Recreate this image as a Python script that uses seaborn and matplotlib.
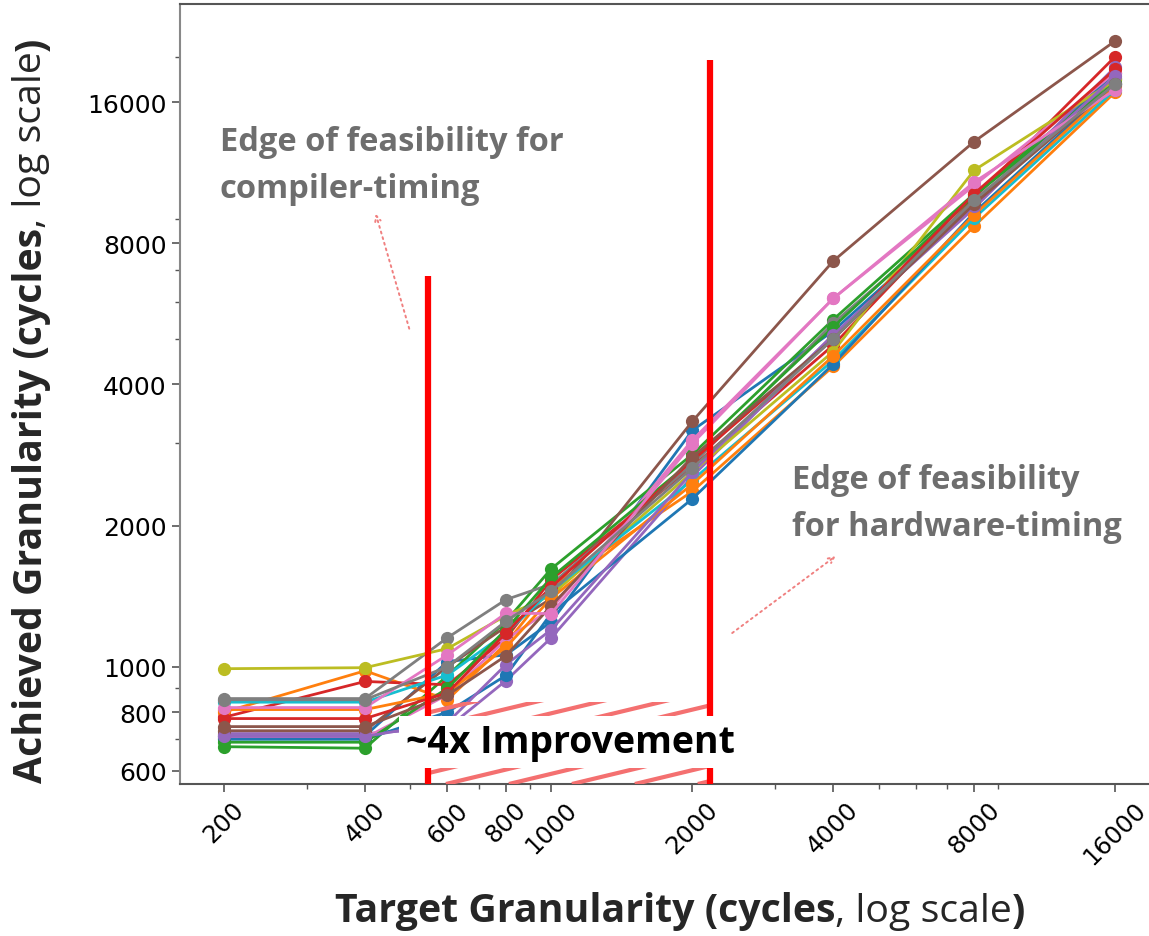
import numpy as np
import pandas as pd
import matplotlib
matplotlib.use("Agg")
import matplotlib.pyplot as plt
from matplotlib.patches import Rectangle
from matplotlib.ticker import FixedLocator, LogLocator, NullFormatter, FixedFormatter
import seaborn as sns

# Target granularity (cycles) on the x axis
target = [200, 400, 600, 800, 1000, 2000, 4000, 8000, 16000]

# Achieved granularity per benchmark run
run_01 = [712, 712, 1025, 1060, 1247, 3190, 5200, 9700, 18500]
run_02 = [800, 980, 850, 1120, 1481, 2365, 4370, 8700, 16800]
run_03 = [675, 670, 957, 1250, 1618, 2835, 5500, 10200, 17900]
run_04 = [780, 930, 915, 1150, 1534, 2670, 4850, 10000, 20000]
run_05 = [720, 720, 740, 934, 1153, 2545, 5100, 9500, 19000]
run_06 = [730, 730, 1000, 1217, 1397, 3335, 7330, 13180, 21600]
run_07 = [705, 705, 871, 1142, 1330, 3040, 6100, 10630, 18500]
run_08 = [855, 855, 1153, 1390, 1500, 2700, 5400, 9800, 18000]
run_09 = [990, 995, 1093, 1285, 1420, 2600, 4700, 11450, 17800]
run_10 = [840, 840, 960, 1180, 1452, 2500, 4500, 9050, 17000]
run_11 = [700, 700, 800, 958, 1300, 2280, 4420, 9300, 17500]
run_12 = [810, 810, 880, 1100, 1400, 2450, 4600, 9200, 17300]
run_13 = [690, 690, 900, 1200, 1550, 2750, 5300, 10100, 17600]
run_14 = [775, 775, 880, 1180, 1480, 2750, 5000, 10200, 18800]
run_15 = [710, 710, 760, 1010, 1200, 2600, 5100, 9600, 18200]
run_16 = [745, 745, 870, 1055, 1350, 2800, 5000, 9700, 17500]
run_17 = [818, 818, 1060, 1300, 1298, 2990, 6100, 10800, 17000]
run_18 = [850, 850, 1000, 1250, 1450, 2650, 5000, 9900, 17500]

runs = [run_01, run_02, run_03, run_04, run_05, run_06, run_07, run_08, run_09,
        run_10, run_11, run_12, run_13, run_14, run_15, run_16, run_17, run_18]

x_ticks = [200, 400, 600, 800, 1000, 2000, 4000, 8000, 16000]
y_ticks = [600, 800, 1000, 2000, 4000, 8000, 16000]

# Feasibility edges (target cycles) and the heights of their markers
compiler_edge = 545
hardware_edge = 2180
compiler_edge_top = 6800
hardware_edge_top = 19700

rows = []
for i, vals in enumerate(runs):
    for t, v in zip(target, vals):
        rows.append({"run": f"r{i:02d}", "target": t, "achieved": v})
df = pd.DataFrame(rows)

sns.set_style("ticks")
plt.rcParams["font.family"] = ["DejaVu Sans"]
LABEL_FONT = "Open Sans"

fig = plt.figure(figsize=(11.49, 9.37), dpi=100)
ax = fig.add_axes([180 / 1149, 1 - 785 / 937, 1 - 180 / 1149, (785 - 5) / 937])

palette = sns.color_palette("tab10", 10)
colors = [palette[i % 10] for i in range(len(runs))]
sns.lineplot(data=df, x="target", y="achieved", hue="run", palette=colors,
             marker="o", markersize=9.5, markeredgewidth=0, linewidth=2.0,
             legend=False, sort=False, ax=ax)

ax.set_xscale("log")
ax.set_yscale("log")
ax.set_xlim(161, 18900)
ax.set_ylim(562, 25900)

ax.xaxis.set_major_locator(FixedLocator(x_ticks))
ax.xaxis.set_major_formatter(FixedFormatter([str(v) for v in x_ticks]))
ax.xaxis.set_minor_locator(LogLocator(base=10, subs=np.arange(2, 10)))
ax.xaxis.set_minor_formatter(NullFormatter())
ax.yaxis.set_major_locator(FixedLocator(y_ticks))
ax.yaxis.set_major_formatter(FixedFormatter([str(v) for v in y_ticks]))
ax.yaxis.set_minor_locator(LogLocator(base=10, subs=np.arange(2, 10)))
ax.yaxis.set_minor_formatter(NullFormatter())

ax.tick_params(axis="both", which="major", labelsize=18, length=6, width=1.2,
               color="#555555", labelcolor="black")
ax.tick_params(axis="x", which="major", labelsize=17.5)
ax.tick_params(axis="both", which="minor", length=3.5, width=1.0, color="#555555")
plt.setp(ax.get_xticklabels(), rotation=45, ha="center", rotation_mode="default")
ax.set_xlabel("")
ax.set_ylabel("")
for side in ["top", "bottom", "left"]:
    ax.spines[side].set_color("#555555")
    ax.spines[side].set_linewidth(1.5)
ax.spines["left"].set_color("#888888")
ax.spines["right"].set_visible(False)

# Red feasibility edges
ybot = ax.get_ylim()[0]
ax.vlines([compiler_edge], ybot, compiler_edge_top, color="#ff0000", lw=4.5, zorder=5)
ax.vlines([hardware_edge], ybot, hardware_edge_top, color="#ff0000", lw=4.5, zorder=5)

# Hatched band between the two edges
band_top = 842
band = Rectangle((compiler_edge, ybot), hardware_edge - compiler_edge, band_top - ybot,
                 facecolor="none", edgecolor="none", transform=ax.transData)
ax.add_patch(band)
slope = 0.24
step = 2 ** (63 / 141)
xs = compiler_edge / 2 ** 3
while xs < hardware_edge * 2:
    ln, = ax.plot([xs, xs * 2 ** 3], [ybot, ybot * 2 ** (3 * slope)],
                  color="#f47070", lw=3.0, zorder=4, solid_capstyle="butt")
    ln.set_clip_path(band)
    xs *= step

ax.text(1100, 692, "~4x Improvement", fontsize=27, fontweight="bold",
        family=LABEL_FONT, color="black", ha="center", va="center", zorder=6,
        bbox=dict(facecolor="white", edgecolor="none", pad=5))

gray_txt = "#6e6e6e"
ax.text(196, 14300, "Edge of feasibility for\ncompiler-timing", fontsize=23.5,
        fontweight="bold", family=LABEL_FONT, color=gray_txt, ha="left", va="top",
        linespacing=1.55)
ax.text(3266, 2720, "Edge of feasibility\nfor hardware-timing", fontsize=23.5,
        fontweight="bold", family=LABEL_FONT, color=gray_txt, ha="left", va="top",
        linespacing=1.55)

arrow_kw = dict(arrowstyle="->", linestyle=(0, (1, 2)), color="#f08080", lw=1.4)
ax.annotate("", xy=(420, 9365), xytext=(499, 5190), arrowprops=arrow_kw)
ax.annotate("", xy=(4092, 1735), xytext=(2407, 1170), arrowprops=arrow_kw)


def mixed_label(pieces, x, y, vertical, size):
    """Draw a label made of runs with different weights, centred on (x, y)."""
    rot = 90 if vertical else 0
    first = fig.text(x, y, pieces[0][0], fontweight=pieces[0][1], family=LABEL_FONT,
                     fontsize=size, rotation=rot, ha="left", va="bottom")
    arts = [first]
    prev = first
    for txt, wt in pieces[1:]:
        anchor = (0, 1) if vertical else (1, 0)
        nxt = ax.annotate(txt, xy=anchor, xycoords=prev, fontweight=wt,
                          family=LABEL_FONT, fontsize=size, rotation=rot,
                          ha="left", va="bottom", annotation_clip=False)
        arts.append(nxt)
        prev = nxt
    fig.canvas.draw()
    r = fig.canvas.get_renderer()
    boxes = [a.get_window_extent(r) for a in arts]
    x0 = min(b.x0 for b in boxes); x1 = max(b.x1 for b in boxes)
    y0 = min(b.y0 for b in boxes); y1 = max(b.y1 for b in boxes)
    W, H = fig.bbox.width, fig.bbox.height
    dx = x * W - (x0 + x1) / 2
    dy = y * H - (y0 + y1) / 2
    fx, fy = first.get_position()
    first.set_position((fx + dx / W, fy + dy / H))


mixed_label([("Target Granularity (cycles", "bold"),
             (", log scale", "normal"), (")", "bold")],
            680 / 1149, 1 - 912 / 937, False, 28.3)
mixed_label([("Achieved Granularity (cycles", "bold"),
             (", log scale", "normal"), (")", "bold")],
            32 / 1149, 1 - 410 / 937, True, 28.3)

fig.savefig("out.png", dpi=100)
